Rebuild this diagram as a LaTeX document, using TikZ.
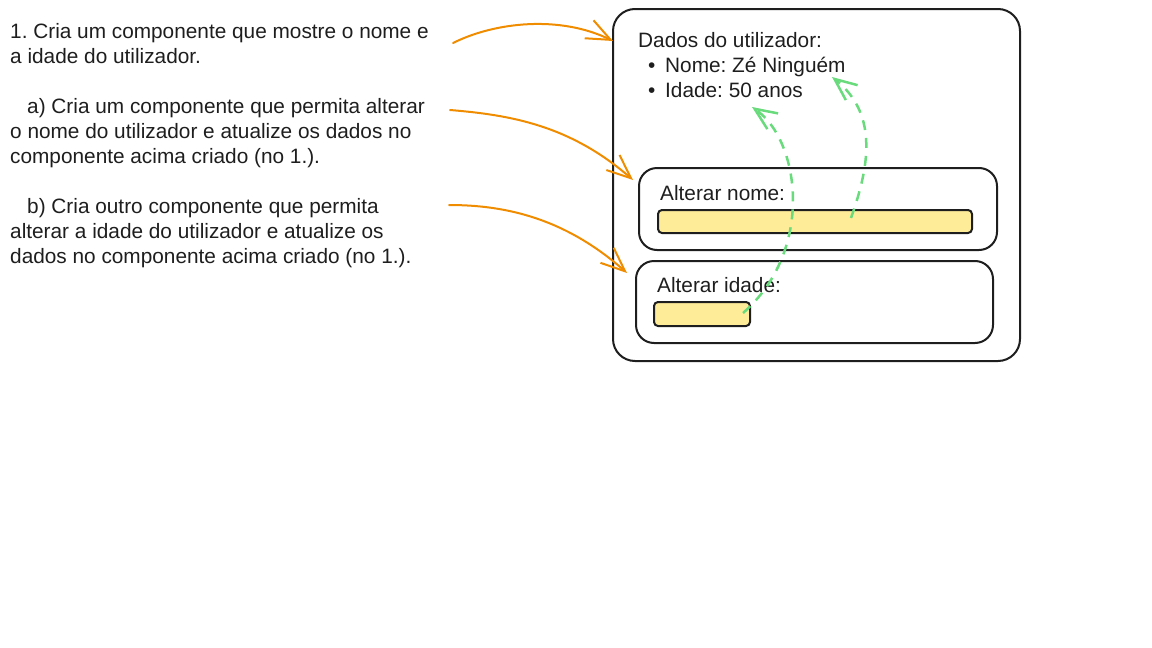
\documentclass[tikz,border=0pt]{standalone}
\usepackage{fontspec}
\setmainfont{Liberation Sans}
\usetikzlibrary{arrows.meta}
\definecolor{ink}{HTML}{1E1E1E}
\definecolor{orng}{HTML}{F08C00}
\definecolor{grn}{HTML}{69DB7C}
\definecolor{yel}{HTML}{FFEC99}
\frenchspacing
\begin{document}
\begin{tikzpicture}[x=1pt,y=-1pt,
  txt/.style={anchor=base west,inner sep=0pt,font=\fontsize{20.8}{25}\selectfont,text=ink},
  panel/.style={draw=ink,line width=2pt,inner sep=0pt,rounded corners=#1},
  panel/.default=18pt,
  bar/.style={draw=ink,fill=yel,line width=2pt,inner sep=0pt,rounded corners=4pt},
  oarrow/.style={draw=orng,line width=2pt,line cap=round,-{Straight Barb[length=24pt,width=20pt]}},
  garrow/.style={draw=grn,line width=2.5pt,dash pattern=on 10pt off 8pt,-{Straight Barb[length=22pt,width=19pt]}}]
\useasboundingbox (0,0) rectangle (1152,648);
% left texts
\node[txt] (l1) at (10,38) {1. Cria um componente que mostre o nome e};
\node[txt] (l2) at (10,63) {a idade do utilizador.};
\node[txt] (l3) at (27,113) {a) Cria um componente que permita alterar};
\node[txt] (l4) at (10,138) {o nome do utilizador e atualize os dados no};
\node[txt] (l5) at (10,163) {componente acima criado (no 1.).};
\node[txt] (l6) at (27,213) {b) Cria outro componente que permita};
\node[txt] (l7) at (10,238) {alterar a idade do utilizador e atualize os};
\node[txt] (l8) at (10,263) {dados no componente acima criado (no 1.).};
% panels
\node[panel=22pt,minimum width=407pt,minimum height=352pt] (outer) at (816.5,185) {};
\node[panel,minimum width=358pt,minimum height=82pt] (box1) at (818,209) {};
\node[panel,minimum width=357pt,minimum height=82pt] (box2) at (814.5,302) {};
\node[bar,minimum width=314pt,minimum height=23pt] (bar1) at (815,221.5) {};
\node[bar,minimum width=96pt,minimum height=24pt] (bar2) at (702,314) {};
% right texts
\node[txt] (t1) at (638,47) {Dados do utilizador:};
\node[txt] (b1) at (648,72) {•};
\node[txt] (t2) at (665,72) {Nome: Zé Ninguém};
\node[txt] (b2) at (648,97) {•};
\node[txt] (t3) at (665,97) {Idade: 50 anos};
\node[txt] (t4) at (660,200) {Alterar nome:};
\node[txt] (t5) at (657,292) {Alterar idade:};
% orange arrows
\coordinate (s1) at (453,43);
\coordinate (e1) at (613,41);
\coordinate (s2) at (450,110);
\coordinate (e2) at (633,180);
\coordinate (s3) at (449,205);
\coordinate (e3) at (627,273);
\draw[oarrow] (s1) .. controls (495,22) and (560,15) .. (e1);
\draw[oarrow] (s2) .. controls (510,115) and (570,125) .. (e2);
\draw[oarrow] (s3) .. controls (505,205) and (565,218) .. (e3);
% green arrows
\coordinate (g1s) at (743,313);
\coordinate (g1e) at (752,107);
\coordinate (g2s) at (851,218);
\coordinate (g2e) at (832,77);
\draw[garrow] (g1s) .. controls (815,250) and (800,140) .. (g1e);
\draw[garrow] (g2s) .. controls (868,170) and (880,115) .. (g2e);
\end{tikzpicture}
\end{document}
